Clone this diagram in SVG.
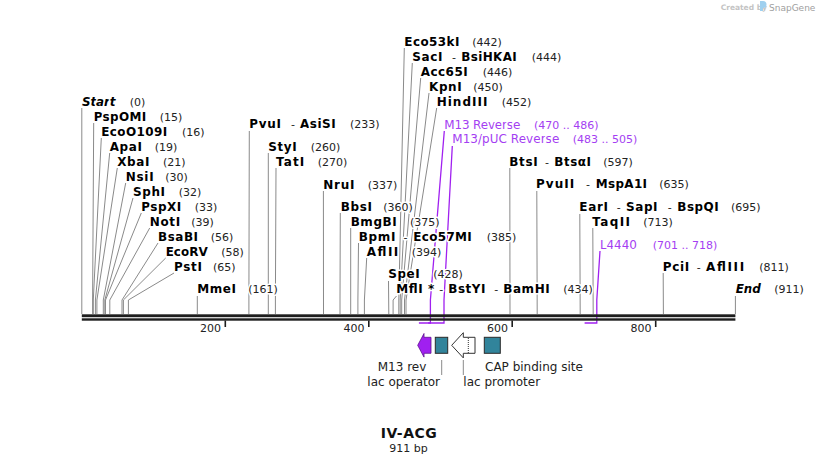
<svg xmlns="http://www.w3.org/2000/svg" width="818" height="464" viewBox="0 0 818 464">
<style>
text{font-family:"DejaVu Sans",Verdana,sans-serif}
.n{font-weight:bold;font-size:12px;fill:#000}
.i{font-weight:bold;font-style:italic;font-size:12px;fill:#000}
.p{font-size:11px;fill:#222}
.h{stroke:#fff;stroke-width:3;paint-order:stroke;stroke-linejoin:round}
.pt{font-size:12px;fill:#a43ef2}
.pn{font-size:11px;fill:#a43ef2}
.ln{fill:none;stroke:#8a8a8a;stroke-width:1}
.pl{fill:none;stroke:#a020f0;stroke-width:1.3}
.f{font-size:12px;fill:#222}
.bb{fill:#1e1e1e}
.box{fill:#31849b;stroke:#2a2a2a;stroke-width:1}
</style>
<rect width="818" height="464" fill="#fff"/>

<g id="connectors">
<polyline class="ln" points="81.8,108 81.8,314"/>
<polyline class="ln" points="93.7,123 92.6,300 92.6,314"/>
<polyline class="ln" points="101.3,138 93.3,300 93.3,314"/>
<polyline class="ln" points="109.7,153 95.4,300 95.4,314"/>
<polyline class="ln" points="117.3,168 96.9,300 96.9,314"/>
<polyline class="ln" points="125.7,183 103.3,300 103.3,314"/>
<polyline class="ln" points="133,198 104.8,300 104.8,314"/>
<polyline class="ln" points="141.3,213 105.5,300 105.5,314"/>
<polyline class="ln" points="149.7,228 109.8,300 109.8,314"/>
<polyline class="ln" points="158,243 122,300 122,314"/>
<polyline class="ln" points="165.7,258 123.4,300 123.4,314"/>
<polyline class="ln" points="174,273 128.4,300 128.4,314"/>
<polyline class="ln" points="197.3,296 197.3,314"/>
<polyline class="ln" points="249.3,131 248.9,300 248.9,314"/>
<polyline class="ln" points="268.3,153 268.3,314"/>
<polyline class="ln" points="276,168 275.4,300 275.4,314"/>
<polyline class="ln" points="323.4,191 323.5,314"/>
<polyline class="ln" points="340.3,213 340,300 340,314"/>
<polyline class="ln" points="350.7,228 350.7,314"/>
<polyline class="ln" points="358.5,243 357.9,300 357.9,314"/>
<polyline class="ln" points="366.7,258 364.4,300 364.4,314"/>
<polyline class="ln" points="388.5,281 388.8,314"/>
<polyline class="ln" points="396.5,296 393.1,300 393.1,314"/>
<polyline class="ln" points="404.3,48 398.8,300 398.8,314"/>
<polyline class="ln" points="412.3,63 400.2,300 400.2,314"/>
<polyline class="ln" points="420.7,78 401.7,300 401.7,314"/>
<polyline class="ln" points="429,93 404.5,300 404.5,314"/>
<polyline class="ln" points="436.7,108 406,300 406,314"/>
<polyline class="ln" points="509.8,168 510,314"/>
<polyline class="ln" points="536.8,191 537.2,314"/>
<polyline class="ln" points="579.8,214 580.2,314"/>
<polyline class="ln" points="592.8,228 593.2,314"/>
<polyline class="ln" points="663.2,273 663.4,314"/>
<polyline class="ln" points="735.4,296 735.4,314"/>
<polyline class="pl" points="444.3,131 430.4,300 430.4,323 418.9,323"/>
<polyline class="pl" points="452.3,146 444,300 444,323 428.2,323"/>
<polyline class="pl" points="600,251 596.8,300 596.8,323 584.6,323"/>
<line class="ln" x1="441.7" y1="360" x2="441.7" y2="375"/>
<line class="ln" x1="463.3" y1="360" x2="463.3" y2="375"/>
</g>

<g id="backbone">
<rect class="bb" x="81.8" y="314.3" width="653.6" height="2.9"/>
<rect class="bb" x="81.8" y="318.3" width="653.6" height="2.4"/>
<rect class="bb" x="224.5" y="320.5" width="1.6" height="6.5"/>
<rect class="bb" x="368" y="320.5" width="1.6" height="6.5"/>
<rect class="bb" x="511.4" y="320.5" width="1.6" height="6.5"/>
<rect class="bb" x="654.9" y="320.5" width="1.6" height="6.5"/>
<text class="p" x="221" y="331.5" text-anchor="end">200</text>
<text class="p" x="364.5" y="331.5" text-anchor="end">400</text>
<text class="p" x="507.9" y="331.5" text-anchor="end">600</text>
<text class="p" x="651.4" y="331.5" text-anchor="end">800</text>
</g>

<g id="start"><text class="h" y="105.5"><tspan class="i" x="82" textLength="33.4">Start</tspan><tspan class="p" x="129.7">(0)</tspan></text></g>
<g id="PspOMI"><text class="h" y="120.5"><tspan class="n" x="93.7" textLength="52.4">PspOMI</tspan><tspan class="p" x="159.7">(15)</tspan></text></g>
<g id="EcoO109I"><text class="h" y="135.5"><tspan class="n" x="101.3" textLength="65.8">EcoO109I</tspan><tspan class="p" x="182">(16)</tspan></text></g>
<g id="ApaI"><text class="h" y="150.5"><tspan class="n" x="109.7" textLength="32.3">ApaI</tspan><tspan class="p" x="154.7">(19)</tspan></text></g>
<g id="XbaI"><text class="h" y="165.5"><tspan class="n" x="117.3" textLength="32.1">XbaI</tspan><tspan class="p" x="163">(21)</tspan></text></g>
<g id="NsiI"><text class="h" y="180.5"><tspan class="n" x="125.7" textLength="27.9">NsiI</tspan><tspan class="p" x="165.3">(30)</tspan></text></g>
<g id="SphI"><text class="h" y="195.5"><tspan class="n" x="133" textLength="32">SphI</tspan><tspan class="p" x="178.7">(32)</tspan></text></g>
<g id="PspXI"><text class="h" y="210.5"><tspan class="n" x="141.3" textLength="40">PspXI</tspan><tspan class="p" x="194.7">(33)</tspan></text></g>
<g id="NotI"><text class="h" y="225.5"><tspan class="n" x="149.7" textLength="30.4">NotI</tspan><tspan class="p" x="191.3">(39)</tspan></text></g>
<g id="BsaBI"><text class="h" y="240.5"><tspan class="n" x="158" textLength="40">BsaBI</tspan><tspan class="p" x="210.7">(56)</tspan></text></g>
<g id="EcoRV"><text class="h" y="255.5"><tspan class="n" x="165.7" textLength="42">EcoRV</tspan><tspan class="p" x="221.3">(58)</tspan></text></g>
<g id="PstI"><text class="h" y="270.5"><tspan class="n" x="174" textLength="27.9">PstI</tspan><tspan class="p" x="213">(65)</tspan></text></g>
<g id="MmeI"><text class="h" y="293.3"><tspan class="n" x="197.3" textLength="38.6">MmeI</tspan><tspan class="p" x="248.3">(161)</tspan></text></g>

<g id="PvuI"><text class="h" y="128.3"><tspan class="n" x="249.3" textLength="31.7">PvuI</tspan><tspan class="p" x="291">-</tspan><tspan class="n" x="300" textLength="35.6">AsiSI</tspan><tspan class="p" x="350">(233)</tspan></text></g>
<g id="StyI"><text class="h" y="150.7"><tspan class="n" x="268.3" textLength="28.3">StyI</tspan><tspan class="p" x="310.7">(260)</tspan></text></g>
<g id="TatI"><text class="h" y="165.5"><tspan class="n" x="276" textLength="28.2">TatI</tspan><tspan class="p" x="317.7">(270)</tspan></text></g>
<g id="NruI"><text class="h" y="188.5"><tspan class="n" x="323.3" textLength="31.2">NruI</tspan><tspan class="p" x="367.7">(337)</tspan></text></g>
<g id="BbsI"><text class="h" y="210.7"><tspan class="n" x="340.7" textLength="31.2">BbsI</tspan><tspan class="p" x="383.3">(360)</tspan></text></g>
<g id="BmgBI"><text class="h" y="225.7"><tspan class="n" x="350.7" textLength="45.9">BmgBI</tspan><tspan class="p" x="410">(375)</tspan></text></g>
<g id="BpmI"><text class="h" y="240.7"><tspan class="n" x="358.7" textLength="36.8">BpmI</tspan><tspan class="p" x="403.5">-</tspan><tspan class="n" x="413.3" textLength="58.5">Eco57MI</tspan><tspan class="p" x="486.7">(385)</tspan></text></g>
<g id="AflII"><text class="h" y="255.7"><tspan class="n" x="366.7" textLength="31.6">AflII</tspan><tspan class="p" x="411.7">(394)</tspan></text></g>
<g id="SpeI"><text class="h" y="278.3"><tspan class="n" x="388.3" textLength="31.4">SpeI</tspan><tspan class="p" x="433.3">(428)</tspan></text></g>
<g id="MflI"><text class="h" y="293.3"><tspan class="n" x="396.3" textLength="26.5">MflI</tspan><tspan class="n" x="428">*</tspan><tspan class="p" x="439.3">-</tspan><tspan class="n" x="448.3" textLength="37.1">BstYI</tspan><tspan class="p" x="494.3">-</tspan><tspan class="n" x="503.3" textLength="46.4">BamHI</tspan><tspan class="p" x="563.3">(434)</tspan></text></g>

<g id="Eco53kI"><text class="h" y="45.7"><tspan class="n" x="404.3" textLength="55.1">Eco53kI</tspan><tspan class="p" x="472.3">(442)</tspan></text></g>
<g id="SacI"><text class="h" y="60.7"><tspan class="n" x="412.3" textLength="30.1">SacI</tspan><tspan class="p" x="452">-</tspan><tspan class="n" x="461.3" textLength="55.5">BsiHKAI</tspan><tspan class="p" x="531.7">(444)</tspan></text></g>
<g id="Acc65I"><text class="h" y="75.7"><tspan class="n" x="420.7" textLength="47">Acc65I</tspan><tspan class="p" x="482.7">(446)</tspan></text></g>
<g id="KpnI"><text class="h" y="90.7"><tspan class="n" x="429" textLength="32.7">KpnI</tspan><tspan class="p" x="473.3">(450)</tspan></text></g>
<g id="HindIII"><text class="h" y="105.7"><tspan class="n" x="436.7" textLength="50.7">HindIII</tspan><tspan class="p" x="501.7">(452)</tspan></text></g>
<g id="M13Reverse"><text class="h" y="128.5"><tspan class="pt" x="444.3" textLength="76">M13 Reverse</tspan><tspan class="pn" x="534">(470 .. 486)</tspan></text></g>
<g id="M13pUCReverse"><text class="h" y="143.3"><tspan class="pt" x="452.3" textLength="107">M13/pUC Reverse</tspan><tspan class="pn" x="572.7">(483 .. 505)</tspan></text></g>

<g id="BtsI"><text class="h" y="165.7"><tspan class="n" x="509.3" textLength="28.3">BtsI</tspan><tspan class="p" x="545">-</tspan><tspan class="n" x="554.3" textLength="36.7">BtsαI</tspan><tspan class="p" x="603.3">(597)</tspan></text></g>
<g id="PvuII"><text class="h" y="188.3"><tspan class="n" x="536" textLength="38.2">PvuII</tspan><tspan class="p" x="586">-</tspan><tspan class="n" x="595.7" textLength="51.3">MspA1I</tspan><tspan class="p" x="659.3">(635)</tspan></text></g>
<g id="EarI"><text class="h" y="211"><tspan class="n" x="579.3" textLength="28.7">EarI</tspan><tspan class="p" x="616.7">-</tspan><tspan class="n" x="626" textLength="31.5">SapI</tspan><tspan class="p" x="667.7">-</tspan><tspan class="n" x="677.3" textLength="41.4">BspQI</tspan><tspan class="p" x="731">(695)</tspan></text></g>
<g id="TaqII"><text class="h" y="225.7"><tspan class="n" x="592.3" textLength="37.7">TaqII</tspan><tspan class="p" x="643.3">(713)</tspan></text></g>
<g id="L4440"><text class="h" y="248.7"><tspan class="pt" x="600" textLength="36.8">L4440</tspan><tspan class="pn" x="652.7">(701 .. 718)</tspan></text></g>
<g id="PciI"><text class="h" y="270.7"><tspan class="n" x="662.7" textLength="26.5">PciI</tspan><tspan class="p" x="696.7">-</tspan><tspan class="n" x="706" textLength="38.1">AflIII</tspan><tspan class="p" x="759.3">(811)</tspan></text></g>
<g id="end"><text class="h" y="293.3"><tspan class="i" x="735.7" textLength="25.1">End</tspan><tspan class="p" x="774.3">(911)</tspan></text></g>

<g id="M13rev">
<polygon points="417.7,345.3 424,333.5 424,337.3 431,337.3 431,353.3 424,353.3 424,357.1" fill="#a020f0" stroke="#5e1190" stroke-width="0.8"/>
<text class="f" x="377.7" y="370.7">M13 rev</text>
</g>
<g id="lacOperator">
<rect class="box" x="435.3" y="337.3" width="12.4" height="16"/>
<text class="f" x="367.3" y="386">lac operator</text>
</g>
<g id="lacPromoter">
<polygon points="451.7,345.3 463.3,332.7 463.3,337.3 475,337.3 475,353.3 463.3,353.3 463.3,357.9" fill="#fff" stroke="#333" stroke-width="1"/>
<line x1="468.3" y1="338" x2="468.3" y2="353" stroke="#333" stroke-width="1" stroke-dasharray="1,1"/>
<text class="f" x="463.3" y="386">lac promoter</text>
</g>
<g id="CAP">
<rect class="box" x="484.3" y="337.3" width="16" height="16"/>
<text class="f" x="485" y="370.7">CAP binding site</text>
</g>

<g id="title">
<text x="408.8" y="437.7" text-anchor="middle" font-weight="bold" font-size="14" fill="#111" textLength="56">IV-ACG</text>
<text class="p" x="408.5" y="451.7" text-anchor="middle">911 bp</text>
</g>

<g id="logo">
<text x="720.7" y="10" font-family="Liberation Sans, sans-serif" font-size="7.5" font-weight="bold" fill="#c4c4c4">Created by</text>
<path d="M760,1 h3 a3.5,3.5 0 0 1 0,7 v3 h-3 z" fill="#9fd0ef"/>
<text x="769" y="10.5" font-family="Liberation Sans, sans-serif" font-size="9" fill="#a0a0a0">SnapGene</text>
</g>
</svg>
